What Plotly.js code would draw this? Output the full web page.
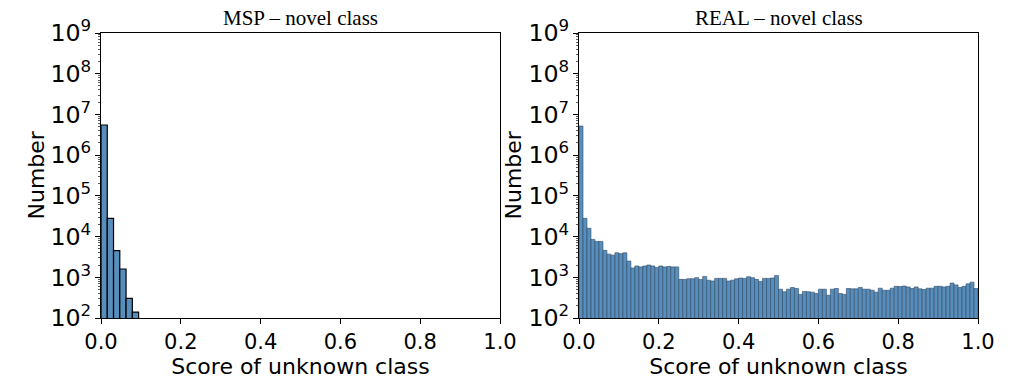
<!DOCTYPE html>
<html>
<head>
<meta charset="utf-8">
<script src="https://cdn.plot.ly/plotly-3.0.1.min.js"></script>
<style>
  html, body { margin: 0; padding: 0; background: #fff; }
  #chart { width: 1022px; height: 386px; }
</style>
</head>
<body>
<div id="chart"></div>
<script>
// ---- Data ----
const mspBinStart = 0.0;
const mspBinWidth = 0.0157;
const mspCounts = [5.5e6, 2.8e4, 4.5e3, 1.6e3, 305, 140];

const realBinStart = 0.0;
const realBinWidth = 0.01;
const realCounts = [
  5.2e6, 2.8e4, 1.6e4, 8.5e3, 7.6e3, 7.6e3, 4.6e3, 3.7e3, 3.5e3, 4.0e3,
  3.8e3, 4.0e3, 2.5e3, 1.7e3, 1.9e3, 1.8e3, 1.9e3, 2.0e3, 1.9e3, 1.75e3,
  1.9e3, 1.8e3, 1.85e3, 1.8e3, 1.8e3, 890, 880, 920, 920, 980,
  880, 1050, 850, 810, 940, 940, 940, 810, 850, 920,
  960, 940, 1030, 980, 890, 790, 940, 940, 960, 1100,
  510, 440, 510, 560, 530, 380, 450, 440, 430, 400,
  510, 510, 360, 510, 530, 400, 380, 530, 520, 520,
  560, 510, 510, 480, 430, 540, 480, 480, 540, 600,
  590, 610, 580, 530, 580, 520, 500, 540, 540, 600,
  600, 580, 600, 720, 650, 560, 600, 690, 760, 530
];

const titles = ["MSP – novel class", "REAL – novel class"];
const xTitle = "Score of unknown class";
const yTitle = "Number";
const xTickVals = [0, 0.2, 0.4, 0.6, 0.8, 1.0];
const xTickText = ["0.0", "0.2", "0.4", "0.6", "0.8", "1.0"];

// ---- Build traces ----
function centers(start, width, n) {
  const out = [];
  for (let i = 0; i < n; i++) out.push(start + width * (i + 0.5));
  return out;
}
const fill = '#588ebb';

const traces = [
  {
    type: 'bar',
    x: centers(mspBinStart, mspBinWidth, mspCounts.length),
    y: mspCounts,
    width: mspBinWidth,
    marker: { color: fill, line: { color: '#000', width: 1.2 } },
    xaxis: 'x', yaxis: 'y',
    hoverinfo: 'skip'
  },
  {
    type: 'bar',
    x: centers(realBinStart, realBinWidth, realCounts.length),
    y: realCounts,
    width: realBinWidth,
    marker: { color: fill, line: { color: '#2f4a66', width: 0.6 } },
    xaxis: 'x2', yaxis: 'y2',
    hoverinfo: 'skip'
  }
];

const W = 1022, H = 386;
const yDomain = [(H - 318) / H, (H - 33) / H];

function xAxis(domain, anchor) {
  return {
    domain: domain, anchor: anchor,
    range: [0, 1],
    tickvals: xTickVals, ticktext: xTickText,
    ticks: 'outside', ticklen: 5, tickwidth: 1, tickcolor: '#000',
    showline: true, mirror: true, linecolor: '#000', linewidth: 1,
    showgrid: false, zeroline: false,
    tickfont: { family: 'DejaVu Sans', size: 21, color: '#000' },
    title: { text: xTitle, font: { family: 'DejaVu Sans', size: 22, color: '#000' }, standoff: 4 }
  };
}
function yAxis(anchor) {
  return {
    domain: yDomain, anchor: anchor,
    type: 'log', range: [2, 9], dtick: 1,
    exponentformat: 'power', showexponent: 'all',
    ticks: 'outside', ticklen: 5, tickwidth: 1, tickcolor: '#000',
    minor: { ticks: 'outside', ticklen: 2.5, tickwidth: 0.8, tickcolor: '#333', dtick: 'D1', showgrid: false },
    showline: true, mirror: true, linecolor: '#000', linewidth: 1,
    showgrid: false, zeroline: false,
    tickfont: { family: 'DejaVu Sans', size: 19, color: '#000' }
  };
}

const titleAnns = titles.map((t, i) => ({
  text: t,
  xref: i === 0 ? 'x domain' : 'x2 domain',
  yref: 'paper',
  x: 0.5, y: yDomain[1],
  yanchor: 'bottom', xanchor: 'center',
  yshift: 1,
  showarrow: false,
  font: { family: 'Liberation Serif', size: 21, color: '#000' }
}));
const yTitleAnns = [36, 513].map(px => ({
  text: yTitle,
  xref: 'paper', yref: 'paper',
  x: px / W, y: (yDomain[0] + yDomain[1]) / 2,
  xanchor: 'center', yanchor: 'middle',
  textangle: -90,
  showarrow: false,
  font: { family: 'DejaVu Sans', size: 22, color: '#000' }
}));

const layout = {
  width: W, height: H,
  margin: { l: 0, r: 0, t: 0, b: 0 },
  paper_bgcolor: '#fff', plot_bgcolor: '#fff',
  showlegend: false,
  bargap: 0,
  xaxis: xAxis([101 / W, 500 / W], 'y'),
  yaxis: yAxis('x'),
  xaxis2: xAxis([579 / W, 978 / W], 'y2'),
  yaxis2: yAxis('x2'),
  annotations: titleAnns.concat(yTitleAnns)
};

Plotly.newPlot('chart', traces, layout, { displayModeBar: false, staticPlot: true });
</script>
</body>
</html>
